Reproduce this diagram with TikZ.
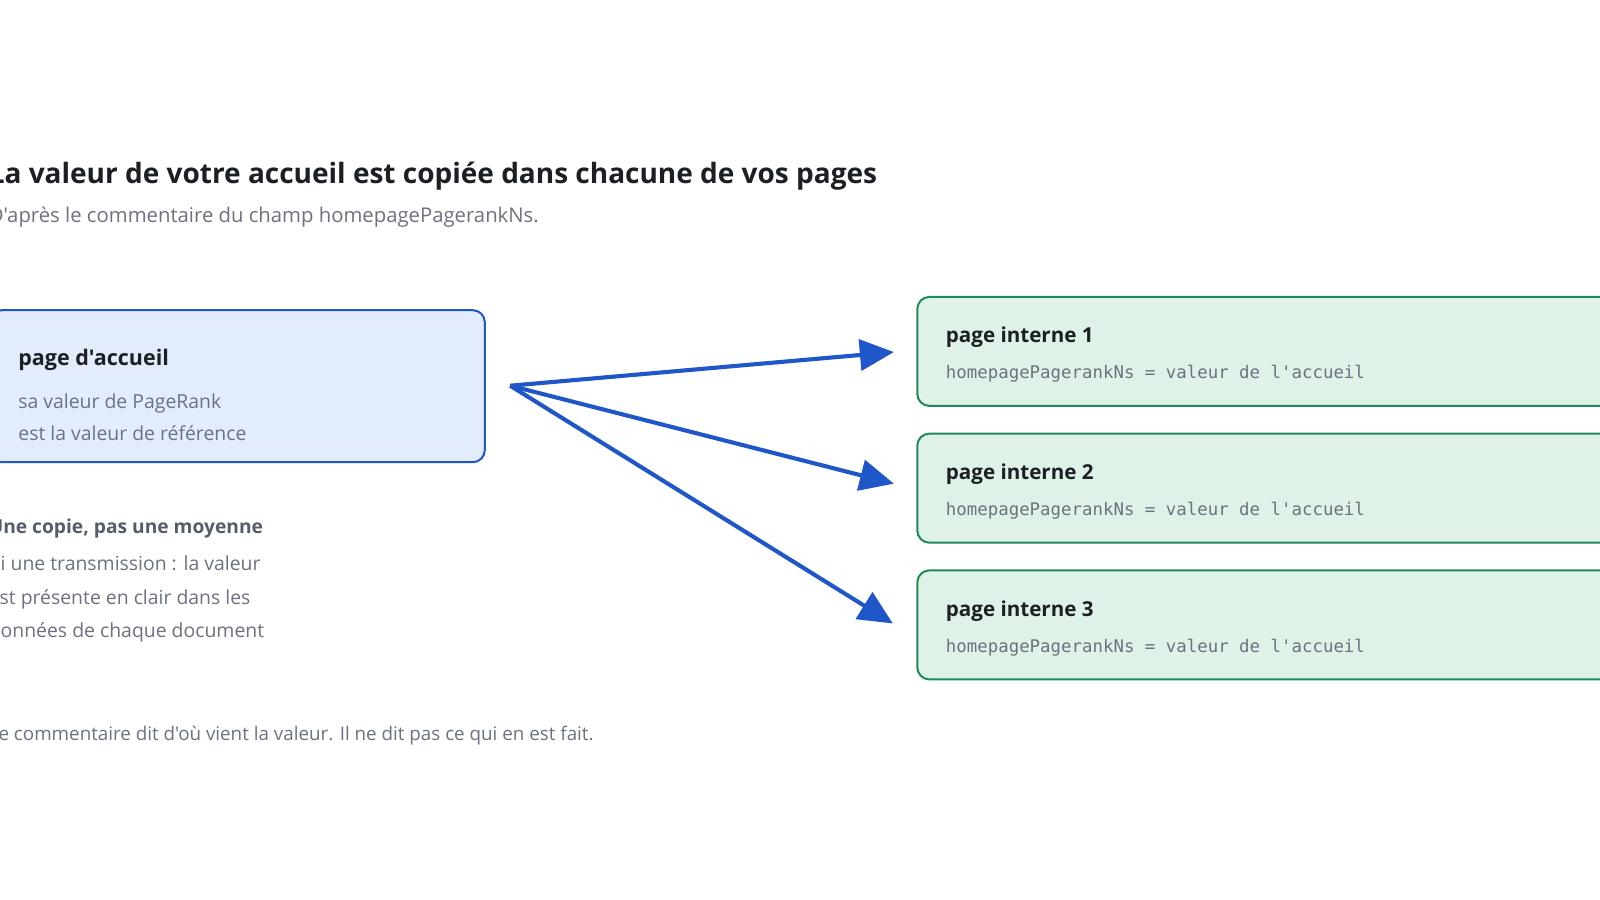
\documentclass[tikz,border=0pt]{standalone}
\usepackage{fontspec}
\setmainfont{Open Sans}[Ligatures=TeXOff]
\setmonofont{DejaVu Sans Mono}
\usetikzlibrary{arrows.meta}
\definecolor{ink}{HTML}{1C1F24}
\definecolor{muted}{HTML}{6B7280}
\definecolor{mutedb}{HTML}{555D6B}
\definecolor{bluel}{HTML}{1F56C8}
\definecolor{bluef}{HTML}{E3ECFD}
\definecolor{greenl}{HTML}{1E8A5A}
\definecolor{greenf}{HTML}{DFF2E7}
\tikzset{
  txt/.style={anchor=base west, inner sep=0pt, outer sep=0pt},
  homebox/.style={draw=bluel, fill=bluef, line width=2pt, rounded corners=12pt, anchor=north west, inner sep=0pt, minimum width=495pt, minimum height=152pt},
  pagebox/.style={draw=greenl, fill=greenf, line width=2pt, rounded corners=12pt, anchor=north west, inner sep=0pt, minimum width=760pt, minimum height=109pt},
  flow/.style={draw=bluel, line width=4.1pt, -{Triangle[length=34pt,width=31pt]}},
  ttl/.style={font=\fontsize{28}{33}\selectfont\bfseries, text=ink},
  sub/.style={font=\fontsize{20.3}{24}\selectfont, text=muted},
  hometitlestyle/.style={font=\fontsize{21.5}{25}\selectfont\bfseries, text=ink},
  boxtitle/.style={font=\fontsize{20.6}{24}\selectfont\bfseries, text=ink},
  body/.style={font=\fontsize{19.4}{23}\selectfont, text=muted},
  notehead/.style={font=\fontsize{19.2}{23}\selectfont\bfseries, text=mutedb},
  foot/.style={font=\fontsize{18.8}{23}\selectfont, text=muted},
  mono/.style={font=\fontsize{17.4}{21}\selectfont\ttfamily, text=muted},
}
\begin{document}
\begin{tikzpicture}[x=1.0204pt,y=-1.0204pt]
\useasboundingbox (0,0) rectangle (1568,882);
\clip (0,0) rectangle (1568,882);
\fill[white] (0,0) rectangle (1568,882);
% title
\node[txt, ttl] (title) at (-11,180) {La valeur de votre accueil est copiée dans chacune de vos pages};
\node[txt, sub] (subtitle) at (-11,218) {D'après le commentaire du champ homepagePagerankNs.};
% home box
\node[homebox] (home) at (-11,303) {};
\node[txt, hometitlestyle] (hometitle) at (18,358) {page d'accueil};
\node[txt, body] (homel1) at (18,400) {sa valeur de PageRank};
\node[txt, body] (homel2) at (18,432) {est la valeur de référence};
% side note
\node[txt, notehead] (notetitle) at (-11,523) {Une copie, pas une moyenne};
\node[txt, body] (note1) at (-11,559) {ni une transmission : la valeur};
\node[txt, body] (note2) at (-11,592) {est présente en clair dans les};
\node[txt, body] (note3) at (-11,625) {données de chaque document};
% footer
\node[txt, foot] (footer) at (-11,726) {Le commentaire dit d'où vient la valeur. Il ne dit pas ce qui en est fait.};
% pages
\node[pagebox] (p1) at (898,290) {};
\node[pagebox] (p2) at (898,424) {};
\node[pagebox] (p3) at (898,558) {};
\foreach \i/\y in {1/0,2/134,3/268} {
  \node[txt, boxtitle] (pt\i) at (927,336+\y) {page interne \i};
  \node[txt, mono] (pm\i) at (927,371+\y) {homepagePagerankNs = valeur de l'accueil};
}
% arrows
\coordinate (src) at (500,378);
\coordinate (t1) at (876,345);
\coordinate (t2) at (876,474);
\coordinate (t3) at (875,611);
\draw[flow] (src) -- (t1);
\draw[flow] (src) -- (t2);
\draw[flow] (src) -- (t3);
\end{tikzpicture}
\end{document}
